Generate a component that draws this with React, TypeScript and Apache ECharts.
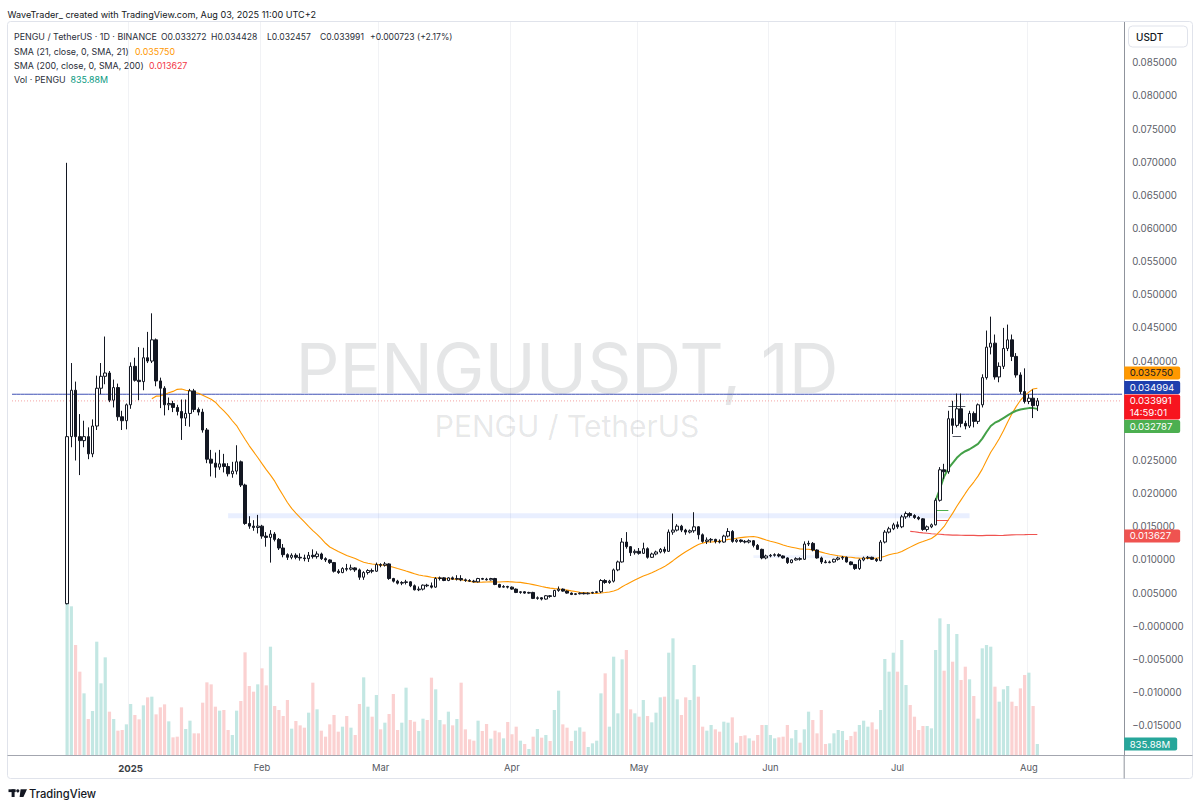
import React, { useEffect, useRef } from "react";
import * as echarts from "echarts";

// ---------------- data ----------------
const AXIS_START_UTC = [2024, 11, 4]; // first (empty) slot of the time axis: 2024-12-04
const AXIS_SLOTS = 263; // daily slots shown on the time axis (through 2025-08-23)
const FIRST_CANDLE_DATE = "2024-12-17";
const MONTH_LABELS = ["Jan", "Feb", "Mar", "Apr", "May", "Jun", "Jul", "Aug", "Sep", "Oct", "Nov", "Dec"];

const OPEN = [
  0.0034, 0.0286, 0.0356, 0.0286, 0.0280, 0.0286, 0.0260, 0.0302, 0.0359, 0.0377,
  0.0382, 0.0341, 0.0360, 0.0316, 0.0310, 0.0334, 0.0392, 0.0371, 0.0369, 0.0405,
  0.0400, 0.0432, 0.0370, 0.0359, 0.0334, 0.0336, 0.0330, 0.0324, 0.0314, 0.0321,
  0.0355, 0.0327, 0.0323, 0.0296, 0.0252, 0.0246, 0.0240, 0.0245, 0.0241, 0.0230,
  0.0234, 0.0248, 0.0213, 0.0155, 0.0151, 0.0149, 0.0151, 0.0136, 0.0134, 0.0139,
  0.0131, 0.0118, 0.0108, 0.0104, 0.0107, 0.0104, 0.0103, 0.0102, 0.0107, 0.0105,
  0.0109, 0.0102, 0.0100, 0.0096, 0.0083, 0.0081, 0.0087, 0.0086, 0.0088, 0.0085,
  0.0074, 0.0081, 0.0084, 0.0083, 0.0093, 0.0092, 0.0094, 0.0072, 0.0068, 0.0065,
  0.0066, 0.0067, 0.0061, 0.0055, 0.0056, 0.0062, 0.0061, 0.0059, 0.0072, 0.0073,
  0.0069, 0.0073, 0.0071, 0.0072, 0.0070, 0.0069, 0.0068, 0.0067, 0.0072, 0.0071,
  0.0070, 0.0072, 0.0063, 0.0059, 0.0060, 0.0059, 0.0056, 0.0051, 0.0052, 0.0050,
  0.0051, 0.0042, 0.0043, 0.0041, 0.0046, 0.0045, 0.0054, 0.0056, 0.0053, 0.0050,
  0.0048, 0.0049, 0.0050, 0.0049, 0.0050, 0.0051, 0.0052, 0.0069, 0.0066, 0.0068,
  0.0085, 0.0097, 0.0127, 0.0120, 0.0111, 0.0113, 0.0110, 0.0117, 0.0104, 0.0109,
  0.0112, 0.0116, 0.0113, 0.0142, 0.0145, 0.0151, 0.0145, 0.0142, 0.0144, 0.0150,
  0.0138, 0.0128, 0.0130, 0.0131, 0.0128, 0.0127, 0.0136, 0.0143, 0.0128, 0.0130,
  0.0128, 0.0127, 0.0129, 0.0122, 0.0116, 0.0103, 0.0106, 0.0107, 0.0108, 0.0106,
  0.0103, 0.0096, 0.0100, 0.0102, 0.0101, 0.0124, 0.0125, 0.0115, 0.0103, 0.0097,
  0.0096, 0.0097, 0.0101, 0.0103, 0.0104, 0.0097, 0.0093, 0.0087, 0.0100, 0.0103,
  0.0104, 0.0101, 0.0099, 0.0127, 0.0142, 0.0147, 0.0153, 0.0150, 0.0165, 0.0170,
  0.0167, 0.0164, 0.0162, 0.0146, 0.0150, 0.0153, 0.0190, 0.0236, 0.0233, 0.0313,
  0.0303, 0.0328, 0.0306, 0.0302, 0.0321, 0.0309, 0.0334, 0.0375, 0.0421, 0.0427,
  0.0376, 0.0392, 0.0419, 0.0432, 0.0407, 0.0379, 0.0354, 0.0339, 0.0344, 0.033272,
];

const HIGH = [
  0.0699, 0.0397, 0.0369, 0.0320, 0.0310, 0.0300, 0.0312, 0.0378, 0.0397, 0.0437,
  0.0385, 0.0372, 0.0366, 0.0325, 0.0336, 0.0398, 0.0405, 0.0421, 0.0420, 0.0444,
  0.0472, 0.0434, 0.0375, 0.0362, 0.0345, 0.0340, 0.0334, 0.0342, 0.0342, 0.0358,
  0.0358, 0.0330, 0.0328, 0.0299, 0.0266, 0.0262, 0.0266, 0.0260, 0.0246, 0.0248,
  0.0273, 0.0250, 0.0215, 0.0166, 0.0160, 0.0168, 0.0153, 0.0142, 0.0145, 0.0142,
  0.0133, 0.0124, 0.0110, 0.0110, 0.0110, 0.0110, 0.0108, 0.0112, 0.0116, 0.0113,
  0.0111, 0.0104, 0.0101, 0.0097, 0.0086, 0.0089, 0.0094, 0.0093, 0.0089, 0.0087,
  0.0083, 0.0086, 0.0087, 0.0096, 0.0095, 0.0097, 0.0095, 0.0073, 0.0070, 0.0068,
  0.0070, 0.0068, 0.0063, 0.0060, 0.0063, 0.0064, 0.0066, 0.0074, 0.0075, 0.0074,
  0.0074, 0.0075, 0.0077, 0.0077, 0.0072, 0.0071, 0.0070, 0.0073, 0.0073, 0.0073,
  0.0073, 0.0073, 0.0064, 0.0062, 0.0061, 0.0060, 0.0057, 0.0053, 0.0053, 0.0052,
  0.0052, 0.0045, 0.0044, 0.0047, 0.0047, 0.0055, 0.0060, 0.0057, 0.0054, 0.0051,
  0.0050, 0.0051, 0.0051, 0.0051, 0.0052, 0.0053, 0.0071, 0.0071, 0.0070, 0.0087,
  0.0099, 0.0133, 0.0142, 0.0121, 0.0116, 0.0118, 0.0126, 0.0119, 0.0111, 0.0114,
  0.0118, 0.0120, 0.0146, 0.0170, 0.0154, 0.0153, 0.0147, 0.0146, 0.0172, 0.0151,
  0.0140, 0.0134, 0.0133, 0.0132, 0.0131, 0.0138, 0.0148, 0.0145, 0.0132, 0.0131,
  0.0130, 0.0131, 0.0130, 0.0124, 0.0117, 0.0108, 0.0109, 0.0110, 0.0110, 0.0107,
  0.0104, 0.0101, 0.0104, 0.0104, 0.0128, 0.0129, 0.0127, 0.0116, 0.0105, 0.0100,
  0.0099, 0.0102, 0.0105, 0.0106, 0.0105, 0.0098, 0.0094, 0.0102, 0.0105, 0.0106,
  0.0105, 0.0103, 0.0130, 0.0145, 0.0150, 0.0156, 0.0158, 0.0168, 0.0173, 0.0172,
  0.0169, 0.0166, 0.0163, 0.0152, 0.0155, 0.0193, 0.0240, 0.0245, 0.0325, 0.0340,
  0.0351, 0.0351, 0.0310, 0.0325, 0.0324, 0.0336, 0.0380, 0.0446, 0.0467, 0.0440,
  0.0398, 0.0450, 0.0455, 0.0440, 0.0412, 0.0383, 0.0389, 0.0350, 0.0357, 0.034428,
];

const LOW = [
  0.0033, 0.0270, 0.0250, 0.0228, 0.0270, 0.0252, 0.0255, 0.0296, 0.0350, 0.0365,
  0.0338, 0.0330, 0.0310, 0.0296, 0.0297, 0.0328, 0.0369, 0.0341, 0.0356, 0.0397,
  0.0397, 0.0362, 0.0329, 0.0318, 0.0326, 0.0323, 0.0318, 0.0281, 0.0302, 0.0301,
  0.0323, 0.0318, 0.0292, 0.0246, 0.0226, 0.0224, 0.0236, 0.0232, 0.0226, 0.0224,
  0.0229, 0.0210, 0.0153, 0.0147, 0.0144, 0.0140, 0.0132, 0.0120, 0.0096, 0.0128,
  0.0115, 0.0104, 0.0100, 0.0101, 0.0101, 0.0099, 0.0098, 0.0097, 0.0102, 0.0102,
  0.0100, 0.0097, 0.0094, 0.0081, 0.0079, 0.0080, 0.0083, 0.0084, 0.0082, 0.0070,
  0.0070, 0.0078, 0.0080, 0.0082, 0.0089, 0.0090, 0.0070, 0.0066, 0.0063, 0.0062,
  0.0063, 0.0059, 0.0054, 0.0053, 0.0054, 0.0059, 0.0057, 0.0058, 0.0069, 0.0068,
  0.0068, 0.0070, 0.0069, 0.0068, 0.0067, 0.0067, 0.0066, 0.0066, 0.0070, 0.0069,
  0.0069, 0.0062, 0.0058, 0.0058, 0.0057, 0.0055, 0.0050, 0.0049, 0.0049, 0.0049,
  0.0041, 0.0040, 0.0039, 0.0040, 0.0043, 0.0044, 0.0052, 0.0052, 0.0049, 0.0047,
  0.0047, 0.0048, 0.0048, 0.0048, 0.0049, 0.0050, 0.0050, 0.0064, 0.0064, 0.0066,
  0.0083, 0.0096, 0.0117, 0.0106, 0.0108, 0.0108, 0.0109, 0.0102, 0.0103, 0.0107,
  0.0110, 0.0110, 0.0112, 0.0138, 0.0143, 0.0142, 0.0138, 0.0140, 0.0141, 0.0131,
  0.0126, 0.0124, 0.0126, 0.0125, 0.0125, 0.0126, 0.0134, 0.0126, 0.0126, 0.0126,
  0.0125, 0.0125, 0.0119, 0.0115, 0.0101, 0.0101, 0.0104, 0.0105, 0.0104, 0.0102,
  0.0094, 0.0095, 0.0099, 0.0099, 0.0100, 0.0121, 0.0113, 0.0102, 0.0094, 0.0095,
  0.0095, 0.0096, 0.0099, 0.0100, 0.0096, 0.0092, 0.0085, 0.0085, 0.0098, 0.0101,
  0.0100, 0.0097, 0.0098, 0.0125, 0.0140, 0.0145, 0.0147, 0.0148, 0.0162, 0.0164,
  0.0162, 0.0160, 0.0144, 0.0143, 0.0148, 0.0152, 0.0188, 0.0222, 0.0230, 0.0290,
  0.0300, 0.0300, 0.0297, 0.0299, 0.0300, 0.0305, 0.0330, 0.0372, 0.0410, 0.0372,
  0.0368, 0.0388, 0.0415, 0.0400, 0.0375, 0.0350, 0.0336, 0.0335, 0.0314, 0.032457,
];

const CLOSE = [
  0.0286, 0.0356, 0.0286, 0.0280, 0.0286, 0.0260, 0.0302, 0.0359, 0.0377, 0.0382,
  0.0341, 0.0360, 0.0316, 0.0310, 0.0334, 0.0392, 0.0371, 0.0369, 0.0405, 0.0400,
  0.0432, 0.0370, 0.0359, 0.0334, 0.0336, 0.0330, 0.0324, 0.0314, 0.0321, 0.0355,
  0.0327, 0.0323, 0.0296, 0.0252, 0.0246, 0.0240, 0.0245, 0.0241, 0.0230, 0.0234,
  0.0248, 0.0213, 0.0155, 0.0151, 0.0149, 0.0151, 0.0136, 0.0134, 0.0139, 0.0131,
  0.0118, 0.0108, 0.0104, 0.0107, 0.0104, 0.0103, 0.0102, 0.0107, 0.0105, 0.0109,
  0.0102, 0.0100, 0.0096, 0.0083, 0.0081, 0.0087, 0.0086, 0.0088, 0.0085, 0.0074,
  0.0081, 0.0084, 0.0083, 0.0093, 0.0092, 0.0094, 0.0072, 0.0068, 0.0065, 0.0066,
  0.0067, 0.0061, 0.0055, 0.0056, 0.0062, 0.0061, 0.0059, 0.0072, 0.0073, 0.0069,
  0.0073, 0.0071, 0.0072, 0.0070, 0.0069, 0.0068, 0.0067, 0.0072, 0.0071, 0.0070,
  0.0072, 0.0063, 0.0059, 0.0060, 0.0059, 0.0056, 0.0051, 0.0052, 0.0050, 0.0051,
  0.0042, 0.0043, 0.0041, 0.0046, 0.0045, 0.0054, 0.0056, 0.0053, 0.0050, 0.0048,
  0.0049, 0.0050, 0.0049, 0.0050, 0.0051, 0.0052, 0.0069, 0.0066, 0.0068, 0.0085,
  0.0097, 0.0127, 0.0120, 0.0111, 0.0113, 0.0110, 0.0117, 0.0104, 0.0109, 0.0112,
  0.0116, 0.0113, 0.0142, 0.0145, 0.0151, 0.0145, 0.0142, 0.0144, 0.0150, 0.0138,
  0.0128, 0.0130, 0.0131, 0.0128, 0.0127, 0.0136, 0.0143, 0.0128, 0.0130, 0.0128,
  0.0127, 0.0129, 0.0122, 0.0116, 0.0103, 0.0106, 0.0107, 0.0108, 0.0106, 0.0103,
  0.0096, 0.0100, 0.0102, 0.0101, 0.0124, 0.0125, 0.0115, 0.0103, 0.0097, 0.0096,
  0.0097, 0.0101, 0.0103, 0.0104, 0.0097, 0.0093, 0.0087, 0.0100, 0.0103, 0.0104,
  0.0101, 0.0099, 0.0127, 0.0142, 0.0147, 0.0153, 0.0150, 0.0165, 0.0170, 0.0167,
  0.0164, 0.0162, 0.0146, 0.0150, 0.0153, 0.0190, 0.0236, 0.0233, 0.0313, 0.0303,
  0.0328, 0.0306, 0.0302, 0.0321, 0.0309, 0.0334, 0.0375, 0.0421, 0.0427, 0.0376,
  0.0392, 0.0419, 0.0432, 0.0407, 0.0379, 0.0354, 0.0339, 0.0344, 0.033272, 0.033991,
];

// daily volume, millions of PENGU
const VOLUME_M = [
  11550, 11300, 8359, 6333, 4686, 2736, 3344, 8612, 5446, 7422,
  3293, 2736, 1849, 1900, 2330, 3875, 3040, 2710, 3774, 4382,
  4433, 3090, 3622, 3850, 2558, 1342, 1393, 3622, 1976, 2609,
  1646, 1646, 3977, 5522, 5370, 3673, 3369, 3420, 1900, 1520,
  3369, 4103, 7802, 5243, 4813, 5370, 6586, 5294, 8232, 3724,
  3420, 2964, 4179, 2001, 2584, 2254, 2077, 3217, 5497, 3470,
  1849, 1393, 2330, 3040, 1773, 2153, 2964, 2077, 1520, 3875,
  5902, 3673, 2913, 4559, 1950, 2457, 3116, 4635, 1900, 2457,
  5117, 2660, 2533, 1824, 2761, 2660, 5877, 4990, 2660, 2330,
  3293, 2254, 2736, 5497, 1950, 1190, 1089, 2609, 1824, 2356,
  1241, 1849, 1722, 1266, 2508, 1570, 2153, 1089, 836, 456,
  1393, 1976, 1317, 1520, 1064, 3420, 4889, 2330, 2077, 1064,
  1849, 2102, 1773, 608, 886, 1089, 4686, 6206, 2153, 7472,
  3166, 7270, 7979, 3470, 3166, 2913, 4179, 2964, 2482, 3217,
  4382, 4433, 7776, 8866, 4230, 3040, 4382, 4179, 6839, 4433,
  2153, 1849, 2280, 1950, 1773, 2533, 2457, 2862, 937, 1444,
  1494, 1266, 1089, 1520, 2280, 2280, 1520, 1266, 1342, 1393,
  2280, 1266, 1900, 937, 1950, 3293, 2660, 1646, 3420, 836,
  886, 1646, 1900, 1824, 1140, 1444, 1773, 2280, 2609, 2153,
  2482, 1950, 3420, 7295, 6333, 7776, 6333, 8739, 5319, 3800,
  2913, 1900, 2204, 2204, 2026, 7979, 10386, 6408, 9955, 7092,
  9195, 5699, 6712, 5750, 4483, 2761, 8106, 8359, 8232, 5193,
  4053, 4990, 5243, 4053, 3724, 5066, 6079, 6257, 3724, 835.88,
];

// green line (anchored from 2025-07-10)
const GREEN_LINE_START = "2025-07-10";
const GREEN_LINE = [
  0.0190, 0.0207, 0.0226, 0.0238, 0.0246, 0.0254, 0.0260, 0.0264, 0.0267, 0.0271,
  0.0275, 0.0283, 0.0293, 0.0302, 0.0307, 0.0310, 0.0314, 0.0318, 0.0322, 0.0325,
  0.0327, 0.0328, 0.0329, 0.0329, 0.032787,
];

const SMA_FAST = 21;
const SMA_SLOW = 200;

const PRICE_TICKS = [
  -0.015, -0.01, -0.005, 0, 0.005, 0.01, 0.015, 0.02, 0.025,
  0.04, 0.045, 0.05, 0.055, 0.06, 0.065, 0.07, 0.075, 0.08, 0.085,
];
const PRICE_MIN = -0.019419;
const PRICE_MAX = 0.091139;
const VOLUME_AXIS_MAX = 55708;

const BLUE_LEVEL = 0.034994;
const LAST_CLOSE = 0.033991;
const SMA_FAST_LAST = 0.03575;
const SMA_SLOW_LAST = 0.013627;
const GREEN_LAST = 0.032787;
const VOLUME_LAST = 835.88;

const BAND_FROM = ["2025-01-24", "2025-05-28"];
const BAND_TO = ["2025-07-18", "2025-06-26"];
const BAND_HI = [0.01703, 0.0107];
const BAND_LO = [0.01628, 0.0103];
const BAND_COLOR = ["rgba(41,98,255,0.10)", "rgba(41,98,255,0.07)"];

// short drawn segments near the July breakout
const SEG_FROM = ["2025-07-10", "2025-07-10", "2025-07-13", "2025-07-14"];
const SEG_TO = ["2025-07-13", "2025-07-13", "2025-07-17", "2025-07-16"];
const SEG_PRICE = [0.01743, 0.01592, 0.03322, 0.02859];
const SEG_COLOR = ["#4caf50", "#ef5350", "#50535e", "#50535e"];

const HEADER = "WaveTrader_ created with TradingView.com, Aug 03, 2025 11:00 UTC+2";
const LEGEND_OHLC = ["PENGU / TetherUS · 1D · BINANCE", "O0.033272", "H0.034428", "L0.032457", "C0.033991", "+0.000723 (+2.17%)"];

// ---------------- helpers ----------------
const FONT = "Inter, 'Noto Sans', sans-serif";
const fmtDate = (t: number) => new Date(t).toISOString().slice(0, 10);
const DATES: string[] = Array.from({ length: AXIS_SLOTS }, (_, i) =>
  fmtDate(Date.UTC(AXIS_START_UTC[0], AXIS_START_UTC[1], AXIS_START_UTC[2] + i))
);
const OFFSET = DATES.indexOf(FIRST_CANDLE_DATE);

function padSeries(values: (number | null)[], startIdx: number) {
  return DATES.map((_, i) => {
    const k = i - startIdx;
    const v = k >= 0 && k < values.length ? values[k] : null;
    return v == null ? "-" : v;
  });
}

function movingAverage(n: number) {
  return CLOSE.map((_, k) => {
    if (k < n - 1) return null;
    let s = 0;
    for (let j = k - n + 1; j <= k; j++) s += CLOSE[j];
    return s / n;
  });
}

const isMonthStart = (_i: number, v: string) => v.slice(8) === "01";

function priceLabel(v: number) {
  const a = Math.abs(v).toFixed(6);
  return v > 1e-12 ? a : "\u2212" + a;
}

export default function App() {
  const ref = useRef<HTMLDivElement>(null);

  useEffect(() => {
    document.body.style.margin = "0";
    const chart = echarts.init(ref.current as HTMLDivElement, undefined, { renderer: "svg" });

    const candleData = DATES.map((_, i) => {
      const k = i - OFFSET;
      if (k < 0 || k >= CLOSE.length) return ["-", "-", "-", "-"];
      return [OPEN[k], CLOSE[k], LOW[k], HIGH[k]];
    });
    const volumeData = DATES.map((_, i) => {
      const k = i - OFFSET;
      if (k < 0 || k >= VOLUME_M.length) return "-";
      const up = CLOSE[k] >= OPEN[k];
      return { value: VOLUME_M[k], itemStyle: { color: up ? "#c3e7e3" : "#fbd1d1" } };
    });
    const flatLine = (v: number) => DATES.map(() => v);

    chart.setOption({
      animation: false,
      backgroundColor: "#ffffff",
      textStyle: { fontFamily: FONT },
      grid: { left: 9.9, right: 75.8, top: 22, bottom: 54, containLabel: false, outerBoundsMode: "none" },
      xAxis: {
        type: "category",
        data: DATES,
        boundaryGap: true,
        axisLine: { show: true, onZero: false, lineStyle: { color: "#8f939c", width: 1 } },
        axisTick: { show: false },
        axisLabel: {
          interval: isMonthStart,
          margin: 8,
          fontSize: 9.4,
          color: "#55585f",
          fontFamily: FONT,
          formatter: (v: string) => {
            const m = Number(v.slice(5, 7));
            return m === 1 ? "{y|" + v.slice(0, 4) + "}" : MONTH_LABELS[m - 1];
          },
          rich: { y: { fontWeight: "bold", fontSize: 9.6, color: "#3a3d44", fontFamily: FONT } },
        },
        splitLine: { show: true, interval: isMonthStart, lineStyle: { color: "#f1f2f5", width: 1 } },
      },
      yAxis: [
        {
          type: "value",
          position: "right",
          min: PRICE_MIN,
          max: PRICE_MAX,
          axisLine: { show: true, onZero: false, lineStyle: { color: "#8f939c", width: 1 } },
          axisTick: { show: false },
          splitLine: { show: false },
          axisLabel: {
            customValues: PRICE_TICKS,
            formatter: (v: number) => priceLabel(v),
            margin: 8,
            fontSize: 9.7,
            color: "#5d6068",
            fontFamily: FONT,
          },
        },
        { type: "value", min: 0, max: VOLUME_AXIS_MAX, show: false },
      ],
      series: [
        {
          name: "Vol",
          type: "bar",
          yAxisIndex: 1,
          barWidth: 3.2,
          silent: true,
          z: 3,
          data: volumeData,
        },
        {
          name: "Drawings",
          type: "line",
          data: DATES.map(() => "-"),
          symbol: "none",
          silent: true,
          z: 2,
          markArea: {
            silent: true,
            data: BAND_FROM.map((f, i) => [
              { xAxis: f, yAxis: BAND_HI[i], itemStyle: { color: BAND_COLOR[i] } },
              { xAxis: BAND_TO[i], yAxis: BAND_LO[i] },
            ]),
          },
          markLine: {
            silent: true,
            symbol: ["none", "none"],
            precision: 6,
            label: { show: false },
            data: SEG_FROM.map((f, i) => [
              { coord: [f, SEG_PRICE[i]], lineStyle: { color: SEG_COLOR[i], width: 1, type: "solid" } },
              { coord: [SEG_TO[i], SEG_PRICE[i]] },
            ]),
          },
        },
        {
          name: "Horizontal line",
          type: "line",
          data: flatLine(BLUE_LEVEL),
          symbol: "none",
          showSymbol: false,
          silent: true,
          z: 4,
          lineStyle: { color: "#3f51b5", width: 1, type: "solid" },
        },
        {
          name: "Last price line",
          type: "line",
          data: flatLine(LAST_CLOSE),
          symbol: "none",
          showSymbol: false,
          silent: true,
          z: 4,
          lineStyle: { color: "#f4a0a0", width: 1, type: [1, 2] },
        },
        {
          name: "SMA 200",
          type: "line",
          data: padSeries(movingAverage(SMA_SLOW), OFFSET),
          showSymbol: false,
          symbol: "none",
          silent: true,
          z: 4,
          lineStyle: { color: "#ef5350", width: 1.1 },
        },
        {
          name: "SMA 21",
          type: "line",
          data: padSeries(movingAverage(SMA_FAST), OFFSET),
          showSymbol: false,
          symbol: "none",
          silent: true,
          z: 4,
          lineStyle: { color: "#ff9800", width: 1.1 },
        },
        {
          name: "Anchored",
          type: "line",
          data: padSeries(GREEN_LINE, DATES.indexOf(GREEN_LINE_START)),
          showSymbol: false,
          symbol: "none",
          silent: true,
          z: 4,
          lineStyle: { color: "#43a047", width: 2 },
        },
        {
          name: "PENGUUSDT",
          type: "candlestick",
          data: candleData,
          barWidth: 3,
          silent: true,
          z: 5,
          itemStyle: {
            color: "#ffffff",
            color0: "#131722",
            borderColor: "#131722",
            borderColor0: "#131722",
            borderWidth: 1,
          },
        },
      ],
    });

    // ---- overlay: texts, badges, frame ----
    const py = (v: number) => chart.convertToPixel({ yAxisIndex: 0 }, v) as number;
    const vy = (v: number) => chart.convertToPixel({ yAxisIndex: 1 }, v) as number;
    const axisX = (chart.convertToPixel({ xAxisIndex: 0 }, DATES[DATES.length - 1]) as number) + 2.1;
    const gridBottom = vy(0);

    const txt = (x: number, y: number, text: string, fill: string, size: number, weight: any = "normal", z = 20, align = "left") => ({
      type: "text",
      z,
      silent: true,
      style: { x, y, text, fill, fontSize: size, fontFamily: FONT, fontWeight: weight, textAlign: align, textVerticalAlign: "middle" },
    });

    const badgeW = 56;
    const badge = (cy: number, h: number, color: string, lines: string[], fg: string, w = badgeW) => {
      const els: any[] = [
        {
          type: "rect",
          z: 40,
          silent: true,
          shape: { x: axisX, y: cy - 6.5, width: w, height: h, r: [0, 2, 2, 0] },
          style: { fill: color },
        },
      ];
      lines.forEach((t, i) => els.push(txt(axisX + 5.5, cy + i * 12, t, fg, 9.6, "normal", 41)));
      return els;
    };

    const redY = py(LAST_CLOSE);
    const redTop = redY - 6.5;
    const redBottom = redY + 18.5;
    const blueY = Math.min(py(BLUE_LEVEL), redTop - 7);
    const orangeY = Math.min(py(SMA_FAST_LAST), blueY - 14.5);
    const greenY = Math.max(py(GREEN_LAST), redBottom + 7);
    const slowY = py(SMA_SLOW_LAST);
    const volY = vy(VOLUME_LAST);

    const plotCenterX = (9.9 + axisX) / 2;
    const LG = 8.9;

    const graphics: any[] = [
      // panel frame
      { type: "rect", z: 1, silent: true, shape: { x: 7.5, y: 21.5, width: 1185, height: 757, r: 3 }, style: { fill: "none", stroke: "#e0e3eb", lineWidth: 1 } },
      { type: "line", z: 2, silent: true, shape: { x1: 7.5, y1: gridBottom + 0.5, x2: 1192.5, y2: gridBottom + 0.5 }, style: { stroke: "#a3a6af", lineWidth: 1 } },
      { type: "line", z: 2, silent: true, shape: { x1: axisX, y1: gridBottom, x2: axisX, y2: 778.5 }, style: { stroke: "#8f939c", lineWidth: 1 } },
      // watermark
      txt(plotCenterX, 368, "PENGUUSDT, 1D", "rgba(19,23,34,0.11)", 69, "normal", 1, "center"),
      txt(plotCenterX, 426, "PENGU / TetherUS", "rgba(19,23,34,0.11)", 30, "normal", 1, "center"),
      // header
      txt(7.5, 14, HEADER, "#131722", 9.1),
      // legend
      txt(14, 36.7, LEGEND_OHLC[0], "#2a2e39", LG),
      txt(161, 36.7, LEGEND_OHLC[1], "#2a2e39", 8.6),
      txt(211, 36.7, LEGEND_OHLC[2], "#2a2e39", 8.6),
      txt(267, 36.7, LEGEND_OHLC[3], "#2a2e39", 8.6),
      txt(320, 36.7, LEGEND_OHLC[4], "#2a2e39", 8.6),
      txt(370, 36.7, LEGEND_OHLC[5], "#2a2e39", 8.6),
      txt(14, 51.3, "SMA (21, close, 0, SMA, 21)", "#2a2e39", LG),
      txt(135, 51.3, SMA_FAST_LAST.toFixed(6), "#ff9800", LG),
      txt(14, 65.4, "SMA (200, close, 0, SMA, 200)", "#2a2e39", LG),
      txt(149, 65.4, SMA_SLOW_LAST.toFixed(6), "#f23645", LG),
      txt(14, 79.8, "Vol · PENGU", "#2a2e39", LG),
      txt(70.5, 79.8, VOLUME_LAST.toFixed(2) + "M", "#089981", LG),
      // currency button
      { type: "rect", z: 30, silent: true, shape: { x: 1128.5, y: 26, width: 59, height: 21, r: 4 }, style: { fill: "#ffffff", stroke: "#e0e3eb", lineWidth: 1 } },
      txt(1136, 36.8, "USDT", "#131722", 10, 500, 31),
      // badges
      ...badge(orangeY, 13, "#ff9800", [SMA_FAST_LAST.toFixed(6)], "#131722"),
      ...badge(blueY, 13, "#1e3fae", [BLUE_LEVEL.toFixed(6)], "#ffffff"),
      ...badge(redY, 25, "#f7151f", [LAST_CLOSE.toFixed(6), "14:59:01"], "#ffffff"),
      ...badge(greenY, 13, "#4caf50", [GREEN_LAST.toFixed(6)], "#ffffff"),
      ...badge(slowY, 13, "#ef5350", [SMA_SLOW_LAST.toFixed(6)], "#ffffff"),
      ...badge(volY, 13, "#26a69a", [VOLUME_LAST.toFixed(2) + "M"], "#ffffff", 53),
      // TradingView logo
      { type: "rect", z: 20, silent: true, shape: { x: 8.5, y: 789.3, width: 7.2, height: 2.8 }, style: { fill: "#131722" } },
      { type: "rect", z: 20, silent: true, shape: { x: 11.6, y: 789.3, width: 3, height: 7.7 }, style: { fill: "#131722" } },
      { type: "circle", z: 20, silent: true, shape: { cx: 17.8, cy: 790.8, r: 1.6 }, style: { fill: "#131722" } },
      { type: "polygon", z: 20, silent: true, shape: { points: [[20.6, 789.3], [27, 789.3], [23.4, 797], [19.6, 797]] }, style: { fill: "#131722" } },
      txt(29, 793.5, "TradingView", "#131722", 11.2, 500),
    ];

    chart.setOption({ graphic: graphics });

    return () => chart.dispose();
  }, []);

  return <div ref={ref} style={{ width: 1200, height: 809 }} />;
}
